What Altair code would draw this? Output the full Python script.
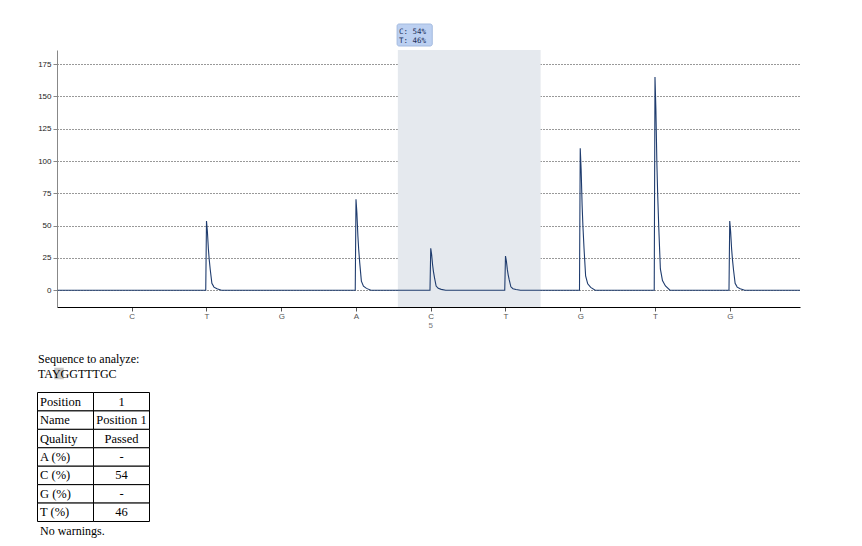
import altair as alt
import pandas as pd

# ---------------- data ----------------
dispensation = ["C", "T", "G", "A", "C", "T", "G", "T", "G"]
peak_heights = [0, 53.5, 0, 70.5, 32.5, 26.5, 110, 165, 53.5]
# shape of one pyrogram peak (offset in dispensation units, fraction of height)
peak_shape_offsets = [-0.01, 0.0, 0.012, 0.025, 0.036, 0.05, 0.072, 0.1, 0.14, 0.2]
peak_shape_fractions = [0, 1.0, 0.85, 0.6, 0.45, 0.3, 0.1, 0.045, 0.02, 0]
trace_start, trace_end = 0.01, 9.94
y_ticks = [0, 25, 50, 75, 100, 125, 150, 175]
shade_range = [4.56, 6.47]
variable_position = 5
variable_position_label = "5"
allele_lines = ["C: 54%", "T: 46%"]
sequence_title = "Sequence to analyze:"
sequence = "TAYGGTTTGC"
table_labels = ["Position", "Name", "Quality", "A (%)", "C (%)", "G (%)", "T (%)"]
table_values = ["1", "Position 1", "Passed", "-", "54", "-", "46"]
footer = "No warnings."

W, H = 743, 257

# ---------------- build trace table ----------------
rows = [(trace_start, 0.0), (trace_end, 0.0)]
for i, h in enumerate(peak_heights):
    if h > 0:
        for off, fr in zip(peak_shape_offsets, peak_shape_fractions):
            rows.append((i + 1 + off, h * fr))
trace = pd.DataFrame(rows, columns=["pos", "signal"]).sort_values("pos")

x_scale = alt.Scale(domain=[0, 9.94], nice=False, zero=False)
y_scale = alt.Scale(domain=[-13, 186], nice=False, zero=False)

label_expr = "[" + ",".join("'%s'" % d for d in dispensation) + "][datum.value - 1]"

shade = alt.Chart(pd.DataFrame({"a": [shade_range[0]], "b": [shade_range[1]]})).mark_rect(
    color="#e5e9ee"
).encode(
    x=alt.X("a:Q", scale=x_scale),
    x2="b:Q",
    y=alt.value(0),
    y2=alt.value(H),
)

line = alt.Chart(trace).mark_line(color="#1f3c6e", strokeWidth=1.1, interpolate="linear").encode(
    x=alt.X(
        "pos:Q",
        scale=x_scale,
        axis=alt.Axis(
            values=list(range(1, len(dispensation) + 1)),
            labelExpr=label_expr,
            grid=False,
            title=None,
            domainColor="#000000",
            tickColor="#555555",
            tickSize=4,
            labelFont="Liberation Sans",
            labelFontSize=8,
            labelColor="#555555",
            labelPadding=1,
        ),
    ),
    y=alt.Y(
        "signal:Q",
        scale=y_scale,
        axis=alt.Axis(
            values=y_ticks,
            grid=True,
            gridDash=[1, 2],
            gridColor="#333333",
            gridOpacity=1,
            title=None,
            domainColor="#888888",
            tickColor="#888888",
            tickSize=4,
            labelFont="Liberation Sans",
            labelFontSize=8,
            labelColor="#222222",
            labelPadding=2,
        ),
    ),
    order="pos:Q",
)

pos_label = alt.Chart(pd.DataFrame({"p": [variable_position], "t": [variable_position_label]})).mark_text(
    font="Liberation Sans", fontSize=8, color="#777777", baseline="alphabetic"
).encode(x=alt.X("p:Q", scale=x_scale), y=alt.value(H + 21), text="t:N")

box = alt.Chart(pd.DataFrame({"a": [shade_range[0] - 0.01], "b": [5.02]})).mark_rect(
    fill="#bcd0f1", stroke="#a3badf", strokeWidth=1, cornerRadius=2
).encode(x=alt.X("a:Q", scale=x_scale), x2="b:Q", y=alt.value(-26), y2=alt.value(-4))

box_text = alt.Chart(pd.DataFrame({"t": allele_lines, "k": [0, 1]})).mark_text(
    font="DejaVu Sans Mono", fontSize=7.5, color="#1b2f5a", align="left", baseline="alphabetic"
).encode(
    x=alt.value(342),
    y=alt.Y("k:O", scale=alt.Scale(type="point", domain=[0, 1], range=[-16.5, -7.5], padding=0), axis=None),
    text="t:N",
)

highlight = alt.Chart(pd.DataFrame({"t": ["Y"]})).mark_rect(color="#c8c8c8").encode(
    x=alt.value(-2.7), x2=alt.value(6.7), y=alt.value(317.7), y2=alt.value(329.3)
)

seq_text = alt.Chart(pd.DataFrame({"t": [sequence_title, sequence], "k": [0, 1]})).mark_text(
    font="Liberation Serif", fontSize=12, color="#000000", align="left", baseline="alphabetic"
).encode(
    x=alt.value(-19),
    y=alt.Y("k:O", scale=alt.Scale(type="point", domain=[0, 1], range=[312.7, 327.7], padding=0), axis=None),
    text="t:N",
)

footer_text = alt.Chart(pd.DataFrame({"t": [footer]})).mark_text(
    font="Liberation Serif", fontSize=12, color="#000000", align="left", baseline="alphabetic"
).encode(x=alt.value(-17), y=alt.value(484.5), text="t:N")

tbl = pd.DataFrame({"label": table_labels, "value": table_values})
ty = alt.Y(
    "label:N",
    sort=table_labels,
    scale=alt.Scale(type="band", domain=table_labels, range=[342.5, 471.5], paddingInner=0, paddingOuter=0),
    axis=None,
)
cell_l = alt.Chart(tbl).mark_rect(fill="white", stroke="black", strokeWidth=1).encode(
    x=alt.value(-19.5), x2=alt.value(36.5), y=ty
)
cell_r = alt.Chart(tbl).mark_rect(fill="white", stroke="black", strokeWidth=1).encode(
    x=alt.value(36.5), x2=alt.value(92.5), y=ty
)
txt_l = alt.Chart(tbl).mark_text(
    font="Liberation Serif", fontSize=12.5, color="black", align="left", baseline="middle"
).encode(x=alt.value(-17), y=ty, text="label:N")
txt_r = alt.Chart(tbl).mark_text(
    font="Liberation Serif", fontSize=12.5, color="black", align="center", baseline="middle"
).encode(x=alt.value(64.5), y=ty, text="value:N")
table = alt.layer(cell_l, cell_r, txt_l, txt_r)

main = alt.layer(shade, line, pos_label, box, box_text, highlight, seq_text, footer_text)

chart = (
    alt.layer(main, table)
    .resolve_scale(y="independent")
    .properties(
        width=W,
        height=H,
        autosize=alt.AutoSizeParams(type="none"),
        padding={"left": 49, "top": 42, "right": 54, "bottom": 231},
    )
    .configure_view(stroke=None)
)

chart.save("out.html", embed_options={"renderer": "svg", "actions": False})
